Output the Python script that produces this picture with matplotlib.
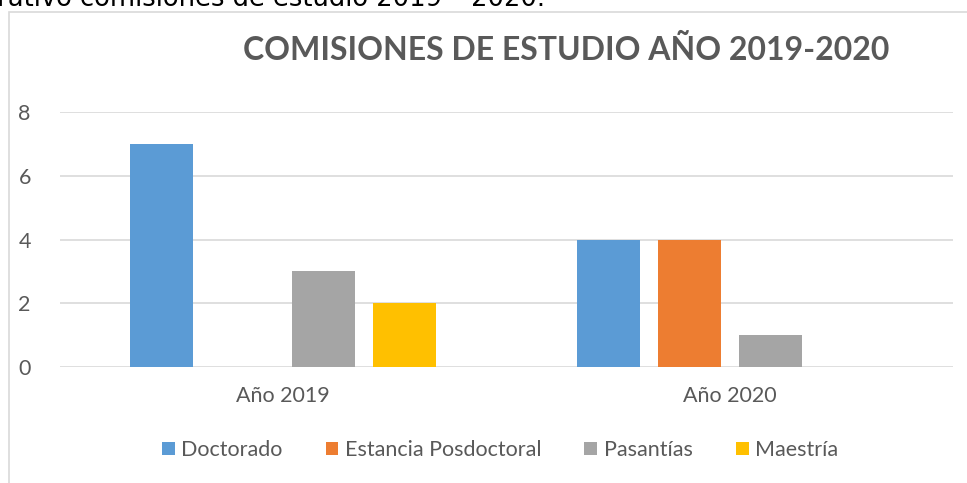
import matplotlib.pyplot as plt
from matplotlib.patches import Rectangle
import numpy as np

categorias = ["Año 2019", "Año 2020"]
series = ["Doctorado", "Estancia Posdoctoral", "Pasantías", "Maestría"]
doctorado = [7, 4]
estancia = [0, 4]
pasantias = [3, 1]
maestria = [2, 0]
colores = ["#5B9BD5", "#ED7D31", "#A5A5A5", "#FFC000"]

W, H = 967, 483
fig = plt.figure(figsize=(W / 100, H / 100), dpi=100)
plt.rcParams['font.family'] = ['Lato', 'DejaVu Sans']

# marco del grafico (recortado por la imagen)
fig.patches.append(Rectangle((8.5 / W, -0.1), 1.2, 1.1 - 12.5 / H, transform=fig.transFigure,
                             fill=False, edgecolor="#d9d9d9", linewidth=1.2))

# texto del documento cortado arriba
fig.text(545 / W, 1 - 6 / H, "Comparativo comisiones de estudio 2019 – 2020.",
         ha="right", va="baseline", fontsize=18.5, color="black", family=["DejaVu Sans"])

ax = fig.add_axes([60 / W, (H - 367) / H, (953 - 60) / W, (367 - 112) / H])

x = np.arange(len(categorias))
ancho = 0.141
paso = 0.1814
valores = [doctorado, estancia, pasantias, maestria]
for i, (nombre, vals) in enumerate(zip(series, valores)):
    ax.bar(x + (i - 1.5) * paso, vals, ancho, color=colores[i], label=nombre, zorder=3)

ax.set_xlim(-0.5, 1.5)
ax.set_ylim(0, 8)
ax.set_yticks([0, 2, 4, 6, 8])
ax.set_xticks(x)
ax.set_xticklabels(categorias)
ax.yaxis.grid(True, color="#d9d9d9", linewidth=1.2, zorder=0)
ax.set_axisbelow(True)
for s in ax.spines.values():
    s.set_visible(False)
ax.tick_params(length=0, labelsize=15.5, labelcolor="#595959")
ax.tick_params(axis="y", pad=21)
ax.tick_params(axis="x", pad=14)

fig.text(566 / W, 1 - 50 / H, "COMISIONES DE ESTUDIO AÑO 2019-2020", ha="center", va="center",
         fontsize=23, fontweight="bold", color="#595959")

fig.legend(loc="center", bbox_to_anchor=(500 / W, 1 - 450 / H), ncol=4, frameon=False,
           fontsize=15.5, labelcolor="#595959", handlelength=0.6, handleheight=0.6,
           handletextpad=0.3, columnspacing=2.0)

fig.savefig("out.png", dpi=100)
